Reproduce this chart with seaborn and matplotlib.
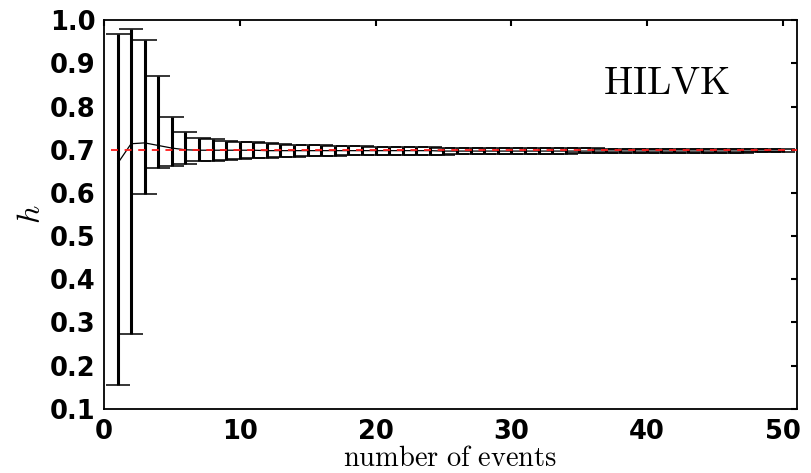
import numpy as np
import pandas as pd
import matplotlib
matplotlib.use("Agg")
import matplotlib.pyplot as plt
import seaborn as sns

# Running estimate of h after each observed event, with its interval bounds
events = list(range(1, 51))
mean_h = [0.668, 0.714, 0.716, 0.710, 0.704, 0.700, 0.699, 0.699, 0.699, 0.699,
          0.699, 0.698, 0.698, 0.698, 0.698, 0.698, 0.698, 0.698, 0.698, 0.698,
          0.698, 0.698, 0.698, 0.698, 0.697, 0.697, 0.697, 0.697, 0.697, 0.697,
          0.697, 0.697, 0.697, 0.697, 0.697, 0.697, 0.697, 0.697, 0.697, 0.697,
          0.697, 0.697, 0.697, 0.697, 0.697, 0.697, 0.697, 0.697, 0.697, 0.697]
upper_h = [0.968, 0.980, 0.955, 0.870, 0.777, 0.742, 0.727, 0.724, 0.721, 0.719,
           0.717, 0.715, 0.714, 0.712, 0.711, 0.710, 0.709, 0.709, 0.708, 0.707,
           0.707, 0.706, 0.706, 0.706, 0.705, 0.705, 0.705, 0.704, 0.704, 0.704,
           0.704, 0.703, 0.703, 0.703, 0.703, 0.703, 0.702, 0.702, 0.702, 0.702,
           0.702, 0.702, 0.702, 0.701, 0.701, 0.701, 0.701, 0.701, 0.701, 0.701]
lower_h = [0.154, 0.273, 0.597, 0.657, 0.663, 0.667, 0.673, 0.675, 0.677, 0.679,
           0.680, 0.682, 0.683, 0.684, 0.685, 0.686, 0.686, 0.687, 0.687, 0.688,
           0.688, 0.688, 0.689, 0.689, 0.689, 0.690, 0.690, 0.690, 0.690, 0.691,
           0.691, 0.691, 0.691, 0.691, 0.692, 0.692, 0.692, 0.692, 0.692, 0.692,
           0.693, 0.693, 0.693, 0.693, 0.693, 0.693, 0.693, 0.694, 0.694, 0.694]
true_h = 0.7
panel_label = "HILVK"
x_ticks = [0, 10, 20, 30, 40, 50]
y_ticks = [0.1, 0.2, 0.3, 0.4, 0.5, 0.6, 0.7, 0.8, 0.9, 1.0]

df = pd.DataFrame({"events": events, "mean": mean_h,
                   "upper": upper_h, "lower": lower_h})

sns.set_style("white")
plt.rcParams["font.family"] = ["DejaVu Sans"]
plt.rcParams["mathtext.fontset"] = "cm"
plt.rcParams["lines.scale_dashes"] = False
for key in ("text.color", "axes.labelcolor", "xtick.color", "ytick.color"):
    plt.rcParams[key] = "black"

fig, ax = plt.subplots(figsize=(8.12, 4.73), dpi=100)
fig.subplots_adjust(left=0.128, right=0.981, top=0.957, bottom=0.136)

yerr = [df["mean"] - df["lower"], df["upper"] - df["mean"]]
_, caps, _ = ax.errorbar(df["events"], df["mean"], yerr=yerr, fmt="none",
                         ecolor="black", elinewidth=2.2, capsize=8.3,
                         capthick=1.1, zorder=2)
for c in caps:
    c.set_color("#3a3a3a")

sns.lineplot(data=df, x="events", y="mean", color="black", linewidth=0.9,
             ax=ax, zorder=3)
ax.axhline(true_h, xmin=0.01, color="#ff1a1a", linewidth=1.3,
           linestyle=(0, (5.0, 4.8)), zorder=4)

ax.text(0.72, 0.81, r"$\mathrm{" + panel_label + "}$", transform=ax.transAxes,
        fontsize=28, ha="left", va="baseline")

ax.set_xlim(0, 51)
ax.set_ylim(0.1, 1.0)
ax.set_xticks(x_ticks)
ax.set_yticks(y_ticks)
ax.set_yticklabels([f"{v:.1f}" for v in y_ticks])
ax.tick_params(axis="both", which="major", direction="in", length=4,
               width=1.5, labelsize=18.5, top=True, right=True,
               color="black", labelcolor="black")
ax.tick_params(axis="x", pad=7.5)
ax.tick_params(axis="y", pad=6)
for lab in ax.get_xticklabels() + ax.get_yticklabels():
    lab.set_fontweight("bold")

ax.set_xlabel(r"$\mathrm{number\ of\ events}$", fontsize=20.5, labelpad=-1)
ax.set_ylabel(r"$h$", fontsize=23, labelpad=2)

for s in ax.spines.values():
    s.set_linewidth(1.3)
    s.set_color("black")

fig.savefig("out.png", dpi=100)
